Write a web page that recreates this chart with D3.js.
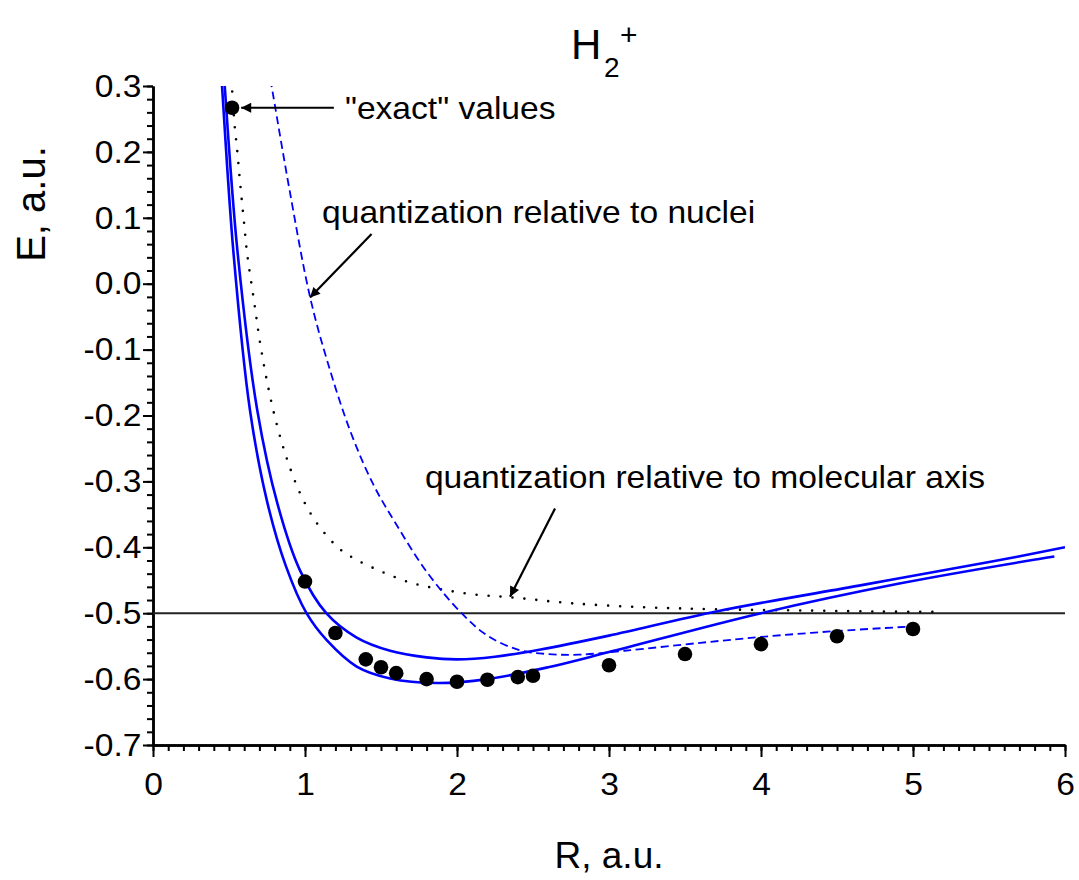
<!DOCTYPE html>
<html>
<head>
<meta charset="utf-8">
<script src="https://cdn.jsdelivr.net/npm/d3@7"></script>
<style>
  body { margin: 0; background: #fff; }
  text { font-family: "Liberation Sans", Arial, sans-serif; fill: #000; }
  .axis .domain { stroke: #000; stroke-width: 2.5; }
  .axis line { stroke: #000; stroke-width: 2; }
</style>
</head>
<body>
<script>
// "exact" values (dots)
var exactR = [0.52, 1.0, 1.2, 1.4, 1.5, 1.6, 1.8, 2.0, 2.2, 2.4, 2.5, 3.0, 3.5, 4.0, 4.5, 5.0];
var exactE = [0.267, -0.452, -0.530, -0.570, -0.582, -0.591, -0.600, -0.604, -0.601, -0.597, -0.595, -0.579, -0.562, -0.547, -0.535, -0.524];

// solid curve, deeper minimum
var lowerR = [0.445, 0.454, 0.528, 0.638, 0.75, 0.875, 1.01, 1.143, 1.34, 1.56, 1.87, 2.2, 2.6, 3.0, 4.0, 4.91, 5.82, 5.93];
var lowerE = [0.33, 0.30, 0.051, -0.192, -0.33, -0.429, -0.50, -0.541, -0.581, -0.599, -0.606, -0.600, -0.582, -0.559, -0.50, -0.455, -0.418, -0.414];

// solid curve, shallower minimum
var upperR = [0.464, 0.472, 0.555, 0.686, 0.82, 0.967, 1.14, 1.34, 1.56, 1.8, 2.0, 2.25, 2.55, 3.0, 3.714, 4.672, 5.51, 6.0];
var upperE = [0.33, 0.30, 0.051, -0.192, -0.335, -0.435, -0.50, -0.537, -0.557, -0.567, -0.570, -0.566, -0.555, -0.534, -0.497, -0.457, -0.422, -0.40];

// dotted: quantization relative to molecular axis
var axisR = [0.512, 0.524, 0.535, 0.553, 0.568, 0.584, 0.601, 0.618, 0.667, 0.704, 0.75, 0.807, 0.877, 0.958, 1.04, 1.12, 1.23, 1.34, 1.505, 1.70, 1.90, 2.13, 2.36, 2.756, 3.235, 3.714, 4.31, 4.79, 5.15];
var axisE = [0.31, 0.285, 0.245, 0.205, 0.166, 0.127, 0.088, 0.048, -0.03, -0.089, -0.148, -0.207, -0.263, -0.313, -0.35, -0.376, -0.403, -0.419, -0.437, -0.454, -0.464, -0.472, -0.476, -0.485, -0.491, -0.494, -0.496, -0.4975, -0.498];

// dashed: quantization relative to nuclei
var nucleiR = [0.772, 0.78, 0.9, 1.033, 1.15, 1.3, 1.45, 1.6, 1.8, 2.03, 2.2, 2.41, 2.6, 2.8, 3.1, 3.6, 4.0, 4.5, 5.0];
var nucleiE = [0.31, 0.30, 0.14, -0.02, -0.12, -0.225, -0.305, -0.365, -0.437, -0.50, -0.534, -0.556, -0.562, -0.563, -0.557, -0.545, -0.536, -0.527, -0.520];

var xTicks = [0, 1, 2, 3, 4, 5, 6];
var yTicks = [0.3, 0.2, 0.1, 0.0, -0.1, -0.2, -0.3, -0.4, -0.5, -0.6, -0.7];
var refE = -0.5;

var svg = d3.select("body").append("svg")
  .attr("width", 1079)
  .attr("height", 880);

var x = d3.scaleLinear().domain([0, 6]).range([153, 1065]);
var y = d3.scaleLinear().domain([-0.7, 0.3]).range([745, 86]);

svg.append("clipPath").attr("id", "plot")
  .append("rect")
  .attr("x", x(0)).attr("y", y(0.3))
  .attr("width", x(6) - x(0)).attr("height", y(-0.7) - y(0.3));

// minor ticks
var minorX = d3.range(0, 60.5, 1).map(function(d) { return d / 10; });
var minorY = d3.range(-35, 15.5, 1).map(function(d) { return d / 50; });

svg.append("g").attr("class", "axis")
  .attr("transform", "translate(0," + y(-0.7) + ")")
  .call(d3.axisBottom(x).tickValues(minorX).tickSize(6).tickSizeOuter(0).tickFormat(""));
svg.append("g").attr("class", "axis")
  .attr("transform", "translate(0," + y(-0.7) + ")")
  .call(d3.axisBottom(x).tickValues(xTicks).tickSize(12).tickSizeOuter(0).tickPadding(15)
    .tickFormat(function(d) { return String(d); }))
  .selectAll("text")
    .style("font-size", "32px").style("font-family", "Liberation Sans, Arial, sans-serif")
    .attr("transform", "scale(1.05,1)");

svg.append("g").attr("class", "axis")
  .attr("transform", "translate(" + x(0) + ",0)")
  .call(d3.axisLeft(y).tickValues(minorY).tickSize(6).tickSizeOuter(0).tickFormat(""));
svg.append("g").attr("class", "axis")
  .attr("transform", "translate(" + x(0) + ",0)")
  .call(d3.axisLeft(y).tickValues(yTicks).tickSize(10).tickSizeOuter(0).tickPadding(1)
    .tickFormat(function(d) { return d.toFixed(1); }))
  .selectAll("text")
    .style("font-size", "32px").style("font-family", "Liberation Sans, Arial, sans-serif")
    .attr("transform", "scale(1.05,1)");

// reference line at -0.5
svg.append("line")
  .attr("x1", x(0)).attr("x2", x(6))
  .attr("y1", y(refE)).attr("y2", y(refE))
  .attr("stroke", "#222").attr("stroke-width", 2);

var line = d3.line()
  .x(function(d) { return x(d[0]); })
  .y(function(d) { return y(d[1]); })
  .curve(d3.curveCatmullRom.alpha(0.5));

var curves = svg.append("g").attr("clip-path", "url(#plot)");

curves.append("path")
  .attr("d", line(d3.zip(axisR, axisE)))
  .attr("fill", "none").attr("stroke", "#000")
  .attr("stroke-width", 2.6).attr("stroke-linecap", "round")
  .attr("stroke-dasharray", "0,12");

curves.append("path")
  .attr("d", line(d3.zip(nucleiR, nucleiE)))
  .attr("fill", "none").attr("stroke", "#0000ff")
  .attr("stroke-width", 1.8)
  .attr("stroke-dasharray", "8,4.5");

curves.append("path")
  .attr("d", line(d3.zip(lowerR, lowerE)))
  .attr("fill", "none").attr("stroke", "#0000ff").attr("stroke-width", 2.6);

curves.append("path")
  .attr("d", line(d3.zip(upperR, upperE)))
  .attr("fill", "none").attr("stroke", "#0000ff").attr("stroke-width", 2.6);

svg.append("g").selectAll("circle")
  .data(d3.zip(exactR, exactE))
  .enter()
  .append("circle")
  .attr("cx", function(d) { return x(d[0]); })
  .attr("cy", function(d) { return y(d[1]); })
  .attr("r", 7.3)
  .attr("fill", "#000");

// arrows + labels
svg.append("defs").append("marker")
  .attr("id", "head")
  .attr("viewBox", "0 0 10 10")
  .attr("refX", 10).attr("refY", 5)
  .attr("markerUnits", "userSpaceOnUse")
  .attr("markerWidth", 15).attr("markerHeight", 10)
  .attr("orient", "auto")
  .append("path").attr("d", "M0,0L10,5L0,10z").attr("fill", "#000");

var notes = [
  { text: "\"exact\" values", tx: 1.263, ty: 0.25, from: [1.19, 0.267], to: [0.58, 0.267] },
  { text: "quantization relative to nuclei", tx: 1.112, ty: 0.092, from: [1.438, 0.0754], to: [1.033, -0.021] },
  { text: "quantization relative to molecular axis", tx: 1.789, ty: -0.31, from: [2.645, -0.341], to: [2.349, -0.475] }
];

notes.forEach(function(n) {
  svg.append("line")
    .attr("x1", x(n.from[0])).attr("y1", y(n.from[1]))
    .attr("x2", x(n.to[0])).attr("y2", y(n.to[1]))
    .attr("stroke", "#000").attr("stroke-width", 2.2)
    .attr("marker-end", "url(#head)");
  svg.append("text")
    .attr("transform", "translate(" + x(n.tx) + "," + y(n.ty) + ") scale(1.05,1)")
    .style("font-size", "32px")
    .text(n.text);
});

// title H2+
svg.append("text").attr("x", 571).attr("y", 59).style("font-size", "42px").text("H");
svg.append("text").attr("x", 604).attr("y", 77).style("font-size", "28px").text("2");
svg.append("text").attr("x", 620).attr("y", 45).style("font-size", "30px").text("+");

// axis titles
svg.append("text")
  .attr("x", (x(0) + x(6)) / 2).attr("y", 868)
  .attr("text-anchor", "middle")
  .style("font-size", "37px")
  .text("R, a.u.");

svg.append("text")
  .attr("transform", "translate(45,204) rotate(-90)")
  .attr("text-anchor", "middle")
  .style("font-size", "40px")
  .text("E, a.u.");
</script>
</body>
</html>
